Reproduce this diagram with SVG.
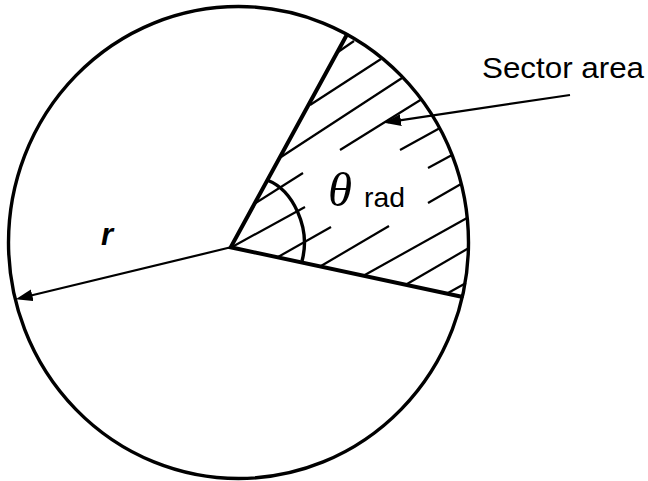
<svg xmlns="http://www.w3.org/2000/svg" width="648" height="481" viewBox="0 0 648 481">
  <style>
    .outline { fill: none; stroke: #000; stroke-width: 3.4; }
    .edge { fill: none; stroke: #000; stroke-width: 4; stroke-linecap: round; }
    .hatch { fill: none; stroke: #000; stroke-width: 2.2; }
    .conn { fill: none; stroke: #000; stroke-width: 2.2; }
    .sans { font-family: "Liberation Sans", Arial, sans-serif; fill: #000; }
    .serif { font-family: "Liberation Serif", "Times New Roman", serif; fill: #000; }
  </style>
  <defs>
    <marker id="arrow" markerUnits="userSpaceOnUse" markerWidth="18" markerHeight="13" refX="13" refY="6" orient="auto">
      <path d="M0,0 L17,6 L0,12 Z" fill="#000"/>
    </marker>
  </defs>
  <rect width="648" height="481" fill="#fff"/>

  <g id="circle">
    <ellipse class="outline" cx="238.5" cy="242.5" rx="230" ry="236"/>
  </g>

  <g id="hatching">
    <line class="hatch" x1="338" y1="52" x2="354" y2="41"/>
    <line class="hatch" x1="310" y1="105" x2="381" y2="59"/>
    <line class="hatch" x1="281" y1="157" x2="402" y2="78"/>
    <line class="hatch" x1="254" y1="204" x2="303" y2="173"/>
    <line class="hatch" x1="340" y1="150" x2="422" y2="99"/>
    <line class="hatch" x1="232" y1="247" x2="305" y2="207"/>
    <line class="hatch" x1="400" y1="150" x2="440" y2="128"/>
    <line class="hatch" x1="278" y1="257" x2="331" y2="227"/>
    <line class="hatch" x1="428" y1="168" x2="452" y2="155"/>
    <line class="hatch" x1="321" y1="266" x2="389" y2="226"/>
    <line class="hatch" x1="428" y1="203" x2="461" y2="184"/>
    <line class="hatch" x1="363" y1="276" x2="467" y2="218"/>
    <line class="hatch" x1="407" y1="284" x2="468" y2="248.5"/>
    <line class="hatch" x1="448" y1="293" x2="466" y2="283"/>
  </g>

  <g id="sector">
    <polyline class="edge" points="346.7,35 230.7,247.3 461.7,296.7"/>
    <path id="angle-arc" class="outline" d="M267,180 C293,190 311,228 302,261"/>
  </g>

  <g id="connectors">
    <line class="conn" x1="230.7" y1="247.3" x2="19.6" y2="298.3" marker-end="url(#arrow)"/>
    <line class="conn" x1="570" y1="95" x2="388" y2="122.1" marker-end="url(#arrow)"/>
  </g>

  <g id="labels">
    <text class="sans" x="482" y="78" font-size="30" textLength="162" lengthAdjust="spacingAndGlyphs">Sector area</text>
    <text class="serif" x="328" y="206" font-size="49" font-style="italic">θ</text>
    <text class="sans" x="364" y="207" font-size="28" textLength="41" lengthAdjust="spacingAndGlyphs">rad</text>
    <text class="sans" x="101" y="245" font-size="31" font-weight="bold" font-style="italic">r</text>
  </g>
</svg>
